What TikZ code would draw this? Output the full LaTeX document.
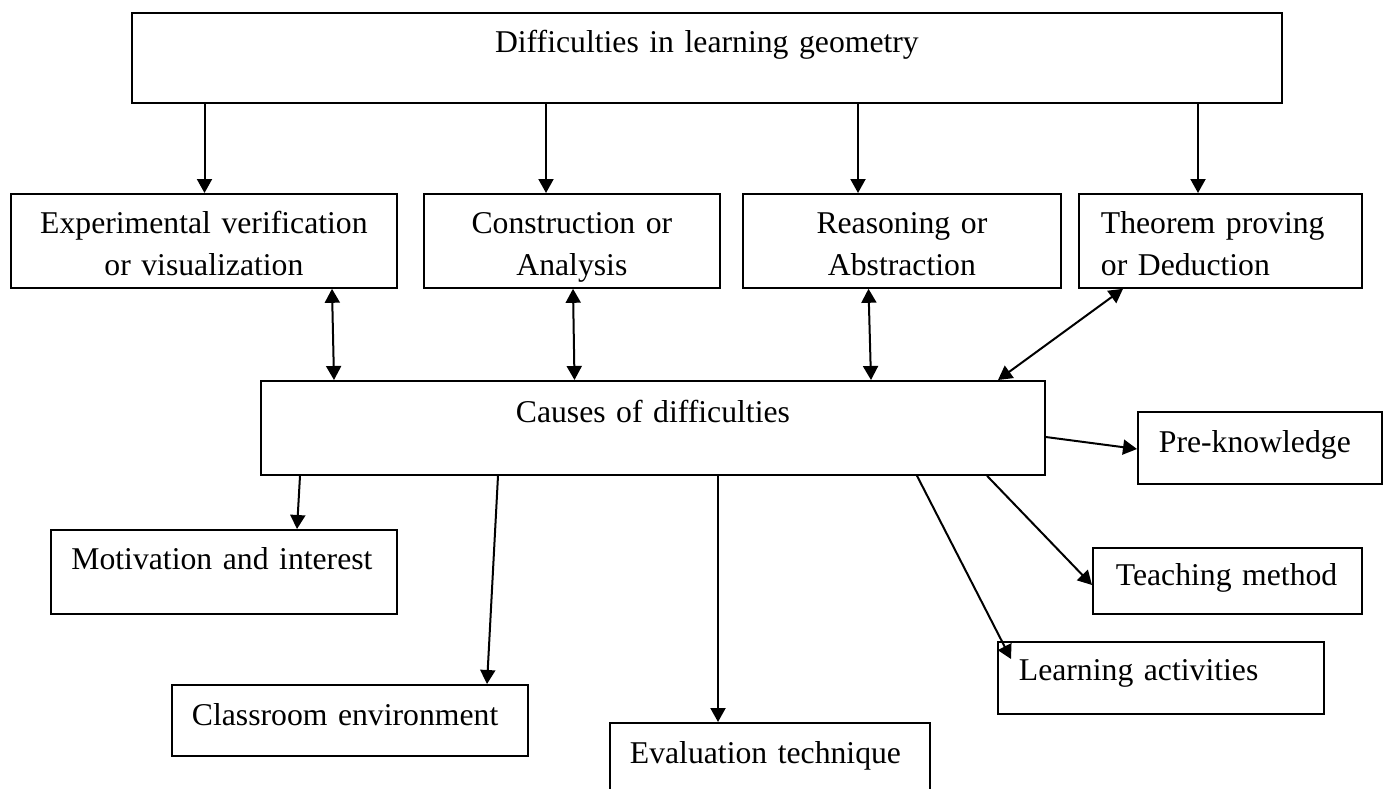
\documentclass[tikz,border=0pt]{standalone}
\usepackage{fontspec}
\setmainfont{Liberation Serif}
\usetikzlibrary{arrows.meta,calc}
\begin{document}
\begin{tikzpicture}[x=1pt,y=-1pt,
  font=\fontsize{31.7}{42}\selectfont,
  box/.style={draw, line width=1.8pt, anchor=north west, inner ysep=0pt, inner xsep=0pt},
  tip/.style={},
  arr/.style={line width=2pt, -{Triangle[length=14pt,width=15pt]}},
  barr/.style={line width=2pt, {Triangle[length=14pt,width=15pt]}-{Triangle[length=14pt,width=15pt]}},
]
\useasboundingbox (0,0) rectangle (1391,789);
\clip (0,0) rectangle (1391,789);

% top
\node (top) [box, minimum width=1150pt, minimum height=90pt, text width=1150pt, align=center,
  text height=40pt, text depth=50pt] at (131,12) {Difficulties in learning geometry};

% second row
\node (exp) [box, minimum width=386pt, minimum height=94pt, text width=386pt, align=center,
  text height=40pt, text depth=54pt] at (10,193) {Experimental verification\\or visualization};
\node (con) [box, minimum width=296pt, minimum height=94pt, text width=296pt, align=center,
  text height=40pt, text depth=54pt] at (423,193) {Construction or\\Analysis};
\node (rea) [box, minimum width=318pt, minimum height=94pt, text width=318pt, align=center,
  text height=40pt, text depth=54pt] at (742,193) {Reasoning or\\Abstraction};
\node (thm) [box, minimum width=283pt, minimum height=94pt, inner xsep=22pt, text width=239pt, align=left,
  text height=40pt, text depth=54pt] at (1078,193) {Theorem proving\\or Deduction};

% causes
\node (cau) [box, minimum width=784pt, minimum height=94pt, text width=784pt, align=center,
  text height=42pt, text depth=52pt] at (260,380) {Causes of difficulties};

% lower boxes
\node (mot) [box, minimum width=346pt, minimum height=84pt, inner xsep=20.5pt, text width=305pt, align=left,
  text height=40pt, text depth=44pt] at (50,529) {Motivation and interest};
\node (cla) [box, minimum width=356pt, minimum height=71pt, inner xsep=20pt, text width=316pt, align=left,
  text height=41pt, text depth=30pt] at (171,684) {Classroom environment};
\node (eva) [box, minimum width=320pt, minimum height=90pt, inner xsep=20pt, text width=280pt, align=left,
  text height=41pt, text depth=49pt] at (609,722) {Evaluation technique};
\node (pre) [box, minimum width=244pt, minimum height=72pt, inner xsep=21pt, text width=202pt, align=left,
  text height=41pt, text depth=31pt] at (1137,411) {Pre-knowledge};
\node (tea) [box, minimum width=269pt, minimum height=66pt, inner xsep=23pt, text width=223pt, align=left,
  text height=38pt, text depth=28pt] at (1092,547) {Teaching method};
\node (lea) [box, minimum width=326pt, minimum height=72pt, inner xsep=21pt, text width=284pt, align=left,
  text height=39pt, text depth=33pt] at (997,641) {Learning activities};

% top arrows
\draw[arr] (top.south -| 204.5,0) -- (exp.north -| 204.5,0);
\draw[arr] (top.south -| 546,0) -- (con.north -| 546,0);
\draw[arr] (top.south -| 858,0) -- (rea.north -| 858,0);
\draw[arr] (top.south -| 1198,0) -- (thm.north -| 1198,0);

% two-way arrows
\draw[barr] (exp.south -| 332,0) -- (cau.north -| 334,0);
\draw[barr] (con.south -| 573,0) -- (cau.north -| 574.5,0);
\draw[barr] (rea.south -| 868.5,0) -- (cau.north -| 871,0);
\draw[barr] (thm.south -| 1123,0) -- (cau.north -| 998,0);

% lower arrows
\draw[arr] (cau.south -| 300,0) -- (mot.north -| 297,0);
\draw[arr] (cau.south -| 498,0) -- (cla.north -| 487,0);
\draw[arr] (cau.south -| 718,0) -- (eva.north -| 718,0);
\draw[arr] (cau.east |- 0,437) -- (pre.west |- 0,449);
\draw[arr] (cau.south -| 987,0) -- (tea.west |- 0,585);
\draw[arr] (cau.south -| 917,0) -- ($(lea.north west)+(14,18)$);
\end{tikzpicture}
\end{document}
